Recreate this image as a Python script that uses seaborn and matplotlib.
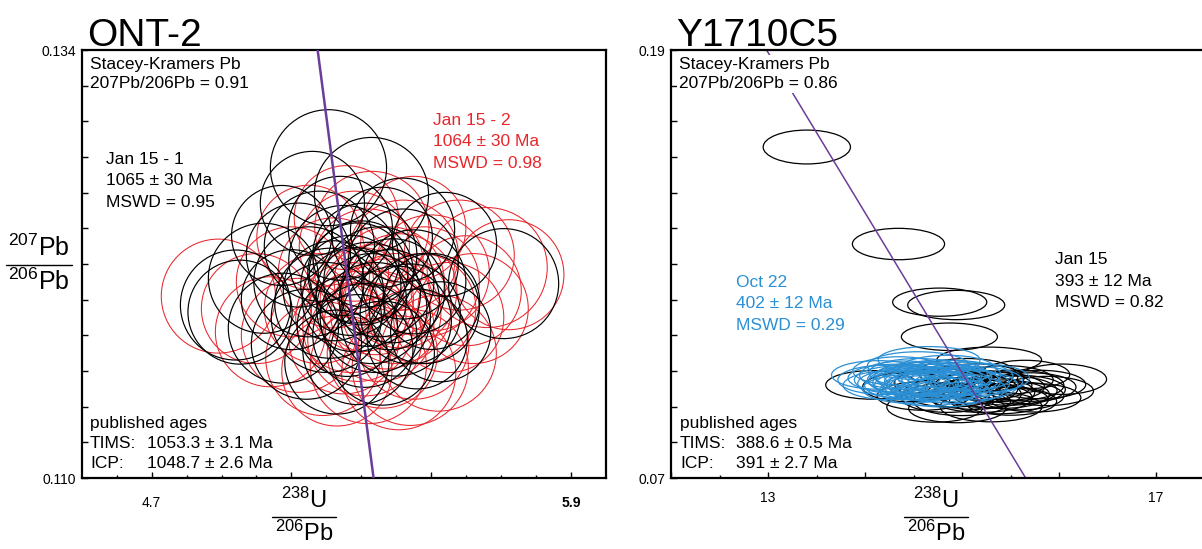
import matplotlib
matplotlib.use('Agg')
import matplotlib.pyplot as plt
from matplotlib.patches import Ellipse, Rectangle
from matplotlib.lines import Line2D
import seaborn as sns
import pandas as pd

# ---- data: ONT-2 (x = 238U/206Pb, y = 207Pb/206Pb, r = ellipse radius in source px) ----
ont_jan1_x = [5.206, 5.329, 5.160, 5.072, 4.953, 4.940, 5.077, 5.143, 5.707, 5.538, 5.501, 5.527,
              5.418, 5.25, 5.30, 5.35, 5.22, 5.28, 5.33, 5.38, 5.20, 5.26, 5.31, 5.40, 5.45, 5.15,
              5.10, 5.18, 5.36, 5.42, 5.24, 5.29, 5.36, 5.46, 5.02, 5.12, 5.48, 5.23,
              5.27, 5.32, 5.34, 5.29, 5.39, 5.21, 5.44, 5.31]
ont_jan1_y = [0.1274, 0.1259, 0.1254, 0.1236, 0.1193, 0.1197, 0.1184, 0.1175, 0.1209, 0.1231, 0.1199,
              0.1182, 0.1239, 0.1222, 0.1215, 0.1210, 0.1205, 0.1200, 0.1195, 0.1200, 0.1190, 0.1185,
              0.1180, 0.1188, 0.1210, 0.1210, 0.1200, 0.1230, 0.1235, 0.1220, 0.1240, 0.1172, 0.1170,
              0.1178, 0.1212, 0.1225, 0.1195, 0.1165,
              0.1208, 0.1203, 0.1190, 0.1215, 0.1205, 0.1198, 0.1192, 0.1225]
ont_jan1_r = [58, 57, 52, 50, 52, 55, 55, 55, 55, 52, 48, 50, 52, 55, 52, 55, 50, 52, 55, 50, 55, 50,
              52, 55, 52, 55, 50, 55, 50, 55, 52, 55, 52, 50, 55, 52, 55, 52,
              50, 52, 55, 50, 52, 55, 50, 52]

ont_jan2_x = [4.891, 5.722, 5.407, 5.190, 5.257, 5.040, 5.660, 5.320, 5.60, 5.55, 5.50, 5.45, 5.35,
              5.30, 5.38, 5.42, 5.28, 5.33, 5.22, 5.18, 5.12, 5.25, 5.47, 5.58, 5.36, 5.10, 5.40,
              5.32, 5.27, 5.52, 5.00, 5.45, 5.15, 5.62, 5.44, 5.23,
              5.34, 5.41, 5.29, 5.37, 5.48, 5.31]
ont_jan2_y = [0.1202, 0.1214, 0.1159, 0.1167, 0.1246, 0.1182, 0.1218, 0.1163, 0.1205, 0.1190, 0.1215,
              0.1175, 0.1185, 0.1200, 0.1210, 0.1225, 0.1230, 0.1240, 0.1215, 0.1195, 0.1180, 0.1178,
              0.1195, 0.1225, 0.1170, 0.1210, 0.1195, 0.1220, 0.1190, 0.1170, 0.1195, 0.1240, 0.1235,
              0.1195, 0.1162, 0.1160,
              0.1200, 0.1205, 0.1185, 0.1192, 0.1210, 0.1178]
ont_jan2_r = [57, 55, 57, 57, 52, 55, 60, 58, 55, 55, 58, 55, 55, 52, 55, 55, 55, 57, 55, 55, 57, 55,
              55, 55, 55, 55, 55, 55, 55, 58, 55, 52, 52, 55, 58, 55,
              55, 57, 55, 55, 55, 57]

# source-chart px per data unit, used to turn radii into data units
ont_px_x = 349.0
ont_px_y = 428.0 / 0.024

ont_line_x = [5.175, 5.335]
ont_line_y = [0.134, 0.110]

# ---- data: Y1710C5 (w/h = full ellipse size in data units) ----
y17_jan_x = [13.40, 14.345, 14.77, 14.94, 14.87, 14.07, 16.03, 14.72, 15.28, 15.87, 15.70, 15.55,
             15.40, 15.20, 15.00, 15.10, 15.45, 15.60, 14.90, 15.30, 14.60, 15.75, 14.80, 15.15,
             15.35, 14.95, 15.50, 14.45, 15.05, 15.65, 15.25,
             15.80, 15.48, 15.12, 15.38, 14.85, 15.58, 15.22]
y17_jan_y = [0.1628, 0.1356, 0.1193, 0.1185, 0.1096, 0.0961, 0.0977, 0.0899, 0.1031, 0.0944, 0.0955,
             0.0960, 0.0935, 0.0925, 0.0915, 0.0950, 0.0975, 0.0930, 0.0940, 0.0900, 0.0930, 0.0925,
             0.0965, 0.0980, 0.0955, 0.0895, 0.0915, 0.0955, 0.0995, 0.0990, 0.0940,
             0.0962, 0.0945, 0.0935, 0.0920, 0.0925, 0.0948, 0.0960]
y17_jan_w = [0.90, 0.95, 0.97, 1.00, 0.99, 0.95, 0.92, 0.99, 1.08, 0.97, 0.95, 1.00, 1.00, 1.05,
             1.00, 0.95, 0.98, 0.90, 1.00, 1.05, 0.95, 0.95, 1.00, 0.98, 1.00, 1.00, 0.95, 0.95,
             1.00, 0.92, 1.00,
             0.95, 1.00, 0.98, 1.02, 0.95, 0.97, 1.00]
y17_jan_h = [0.0095, 0.0088, 0.0079, 0.0082, 0.0077, 0.0080, 0.0085, 0.0085, 0.0072, 0.0082, 0.0080,
             0.0085, 0.0080, 0.0082, 0.0080, 0.0085, 0.0080, 0.0078, 0.0082, 0.0085, 0.0080, 0.0080,
             0.0085, 0.0080, 0.0082, 0.0080, 0.0078, 0.0082, 0.0080, 0.0080, 0.0085,
             0.0080, 0.0082, 0.0085, 0.0080, 0.0082, 0.0080, 0.0082]

y17_oct_x = [14.14, 14.66, 15.20, 14.60, 14.50, 14.70, 14.80, 14.40, 14.90, 14.55, 14.30, 14.75,
             15.00, 14.45, 14.65, 14.85, 14.35, 15.05, 14.95, 14.55, 14.25, 14.70, 15.10, 14.60, 14.80,
             14.52, 14.62, 14.72, 14.82, 14.42, 14.58, 14.68, 14.78, 14.88, 14.48, 14.92, 14.38,
             15.15, 14.20]
y17_oct_y = [0.0989, 0.1031, 0.0980, 0.0960, 0.0975, 0.0985, 0.0970, 0.0965, 0.0990, 0.0995, 0.0980,
             0.0955, 0.0965, 0.0950, 0.0945, 0.1005, 0.1000, 0.0985, 0.0950, 0.1015, 0.0960, 0.0970,
             0.0960, 0.0985, 0.0940,
             0.0972, 0.0978, 0.0962, 0.0982, 0.0988, 0.0968, 0.0958, 0.0992, 0.0975, 0.0960, 0.0970,
             0.0975, 0.0972, 0.0975]
y17_oct_w = [0.97, 1.05, 0.99, 1.00, 0.95, 1.00, 0.98, 0.95, 1.00, 1.02, 0.95, 1.00, 0.98, 0.95,
             1.00, 1.00, 0.95, 0.95, 1.00, 1.05, 0.95, 1.00, 0.95, 1.00, 0.98,
             0.96, 1.00, 0.98, 0.97, 0.95, 1.00, 0.98, 0.96, 1.00, 0.97, 0.95, 0.98, 0.95, 0.96]
y17_oct_h = [0.0080, 0.0075, 0.0080, 0.0085, 0.0080, 0.0082, 0.0080, 0.0082, 0.0080, 0.0080, 0.0078,
             0.0085, 0.0082, 0.0080, 0.0085, 0.0078, 0.0080, 0.0080, 0.0082, 0.0078, 0.0080, 0.0080,
             0.0082, 0.0080, 0.0082,
             0.0080, 0.0082, 0.0080, 0.0078, 0.0080, 0.0082, 0.0080, 0.0078, 0.0080, 0.0082, 0.0080,
             0.0080, 0.0080, 0.0082]

y17_line_x = [12.985, 15.656]
y17_line_y = [0.19, 0.07]

RED = '#e8262b'
BLUE = '#2a8fd4'
PURPLE = '#6a3d9a'

sns.set_style('ticks')
plt.rcParams['font.family'] = ['Liberation Sans', 'DejaVu Sans']
plt.rcParams['mathtext.fontset'] = 'custom'
plt.rcParams['mathtext.rm'] = 'Liberation Sans'
plt.rcParams['mathtext.it'] = 'Liberation Sans'
plt.rcParams['text.color'] = 'black'
plt.rcParams['xtick.color'] = 'black'
plt.rcParams['ytick.color'] = 'black'

W, H = 1202, 549
fig = plt.figure(figsize=(W / 100, H / 100), dpi=100)


def px(x, y):
    return x / W, 1 - y / H


ax1 = fig.add_axes([81.7 / W, (H - 478) / H, (606 - 81.7) / W, 428 / H])
ax2 = fig.add_axes([671 / W, (H - 478) / H, 534.5 / W, 428 / H])

# ---- ONT-2 ----
for xs, ys, rs, col, lw in [(ont_jan2_x, ont_jan2_y, ont_jan2_r, RED, 0.75),
                            (ont_jan1_x, ont_jan1_y, ont_jan1_r, 'black', 0.85)]:
    for x, y, r in zip(xs, ys, rs):
        ax1.add_patch(Ellipse((x, y), 2 * r / ont_px_x, 2 * r / ont_px_y,
                              fill=False, edgecolor=col, lw=lw))
sns.lineplot(data=pd.DataFrame({'x': ont_line_x, 'y': ont_line_y}), x='x', y='y',
             ax=ax1, color=PURPLE, lw=1.8, zorder=5)
ax1.set_xlim(4.5, 6.0)
ax1.set_ylim(0.110, 0.134)
ax1.set_xticks([4.7, 5.1, 5.5, 5.9])
ax1.set_xticklabels(['4.7', '', '', '5.9'])
ax1.get_xticklabels()[-1].set_fontweight('bold')
ax1.set_xticks([4.6 + 0.1 * i for i in range(14)], minor=True)
ax1.set_yticks([0.110 + 0.002 * i for i in range(13)])
ax1.set_yticklabels(['0.110'] + [''] * 11 + ['0.134'])
ax1.tick_params(axis='x', which='both', pad=13)

# ---- Y1710C5 ----
for xs, ys, ws, hs, col in [(y17_jan_x, y17_jan_y, y17_jan_w, y17_jan_h, 'black'),
                            (y17_oct_x, y17_oct_y, y17_oct_w, y17_oct_h, BLUE)]:
    for x, y, w, h in zip(xs, ys, ws, hs):
        ax2.add_patch(Ellipse((x, y), w, h, fill=False, edgecolor=col, lw=0.9))
sns.lineplot(data=pd.DataFrame({'x': y17_line_x, 'y': y17_line_y}), x='x', y='y',
             ax=ax2, color=PURPLE, lw=1.1, zorder=1)
ax2.set_xlim(12, 17.51)
ax2.set_ylim(0.07, 0.19)
ax2.set_xticks([12, 13, 14, 15, 16, 17])
ax2.set_xticklabels(['', '13', '', '', '', '17'])
ax2.set_xticks([12.5, 13.5, 14.5, 15.5, 16.5, 17.5], minor=True)
ax2.set_yticks([0.07 + 0.01 * i for i in range(13)])
ax2.set_yticklabels(['0.07'] + [''] * 11 + ['0.19'])
ax2.tick_params(axis='x', which='both', pad=9)

for ax in (ax1, ax2):
    ax.set_xlabel('')
    ax.set_ylabel('')
    ax.tick_params(which='both', direction='in', labelsize=10, width=1, color='black')
    ax.tick_params(which='major', length=4)
    ax.tick_params(which='minor', length=2.2)
    ax.tick_params(axis='y', pad=4)
    for s in ax.spines.values():
        s.set_linewidth(1.6)
        s.set_color('black')

# ---- text (one call per line, tops in source px) ----
TXT = 12.5


def block(x, tops, lines, color='black'):
    for t, s in zip(tops, lines):
        fig.text(*px(x, t), s, fontsize=TXT, va='top', ha='left', color=color, zorder=10)


block(90, [57, 76], ['Stacey-Kramers Pb', '207Pb/206Pb = 0.91'])
block(106, [152, 173.5, 195], ['Jan 15 - 1', '1065 ± 30 Ma', 'MSWD = 0.95'])
block(433, [113, 134.5, 156], ['Jan 15 - 2', '1064 ± 30 Ma', 'MSWD = 0.98'], color=RED)
block(90, [416, 436, 456.5], ['published ages', 'TIMS:', 'ICP:'])
block(147, [436, 456.5], ['1053.3 ± 3.1 Ma', '1048.7 ± 2.6 Ma'])

# white backing behind the right-hand Stacey-Kramers note (hides the mixing line)
bx0, by0 = px(677, 93)
bx1, by1 = px(845, 55)
fig.add_artist(Rectangle((bx0, by0), bx1 - bx0, by1 - by0, transform=fig.transFigure,
                         facecolor='white', edgecolor='none', zorder=9))
block(679, [57, 76], ['Stacey-Kramers Pb', '207Pb/206Pb = 0.86'])
block(736, [275, 296.5, 318], ['Oct 22', '402 ± 12 Ma', 'MSWD = 0.29'], color=BLUE)
block(1055, [252, 273.5, 295], ['Jan 15', '393 ± 12 Ma', 'MSWD = 0.82'])
block(680, [416, 436, 456.5], ['published ages', 'TIMS:', 'ICP:'])
block(736, [436, 456.5], ['388.6 ± 0.5 Ma', '391 ± 2.7 Ma'])

fig.text(*px(87, 46), 'ONT-2', fontsize=28, va='baseline', ha='left')
fig.text(*px(676, 46), 'Y1710C5', fontsize=28, va='baseline', ha='left')


def frac(cx, cy, top, bot, half, size=17):
    fig.text(*px(cx, cy - 4), top, fontsize=size, ha='center', va='bottom')
    fig.text(*px(cx, cy + 4), bot, fontsize=size, ha='center', va='top')
    fig.add_artist(Line2D([(cx - half) / W, (cx + half) / W], [1 - cy / H, 1 - cy / H],
                          color='black', lw=1))


frac(39, 265, r'$^{207}$Pb', r'$^{206}$Pb', 33, size=18)
frac(304, 517, r'$^{238}$U', r'$^{206}$Pb', 32)
frac(936, 517, r'$^{238}$U', r'$^{206}$Pb', 32)

fig.savefig('out.png', dpi=100)
